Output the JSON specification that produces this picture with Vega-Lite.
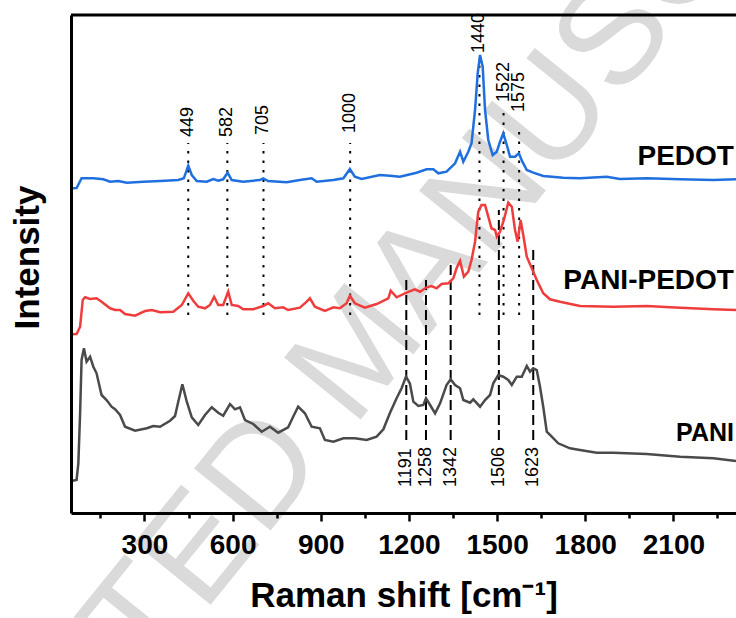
{
  "$schema": "https://vega.github.io/schema/vega-lite/v6.json",
  "width": 665,
  "height": 498,
  "autosize": "none",
  "padding": {"left": 71, "top": 15, "right": 0, "bottom": 105},
  "background": "white",
  "config": {"view": {"stroke": null}, "font": "Liberation Sans"},
  "datasets": {
    "spectra": [
      {"s":"PEDOT","w":52,"i":324.7},{"s":"PEDOT","w":69,"i":325},{"s":"PEDOT","w":86,"i":334.7},{"s":"PEDOT","w":126,"i":334.7},{"s":"PEDOT","w":160,"i":333.7},{"s":"PEDOT","w":183,"i":331.3},{"s":"PEDOT","w":211,"i":332},{"s":"PEDOT","w":240,"i":330.3},{"s":"PEDOT","w":296,"i":331.3},{"s":"PEDOT","w":353,"i":332},{"s":"PEDOT","w":415,"i":333},{"s":"PEDOT","w":434,"i":334.7},{"s":"PEDOT","w":449,"i":347.3},{"s":"PEDOT","w":461,"i":338},{"s":"PEDOT","w":478,"i":332},{"s":"PEDOT","w":512,"i":331.3},{"s":"PEDOT","w":534,"i":334},{"s":"PEDOT","w":551,"i":332.3},{"s":"PEDOT","w":568,"i":333.7},{"s":"PEDOT","w":583,"i":340.3},{"s":"PEDOT","w":597,"i":333},{"s":"PEDOT","w":636,"i":331.3},{"s":"PEDOT","w":693,"i":333},{"s":"PEDOT","w":704,"i":334.7},{"s":"PEDOT","w":721,"i":332},{"s":"PEDOT","w":784,"i":330.7},{"s":"PEDOT","w":829,"i":333},{"s":"PEDOT","w":869,"i":334.7},{"s":"PEDOT","w":886,"i":331.3},{"s":"PEDOT","w":943,"i":333},{"s":"PEDOT","w":977,"i":334.7},{"s":"PEDOT","w":999,"i":344},{"s":"PEDOT","w":1016,"i":336.3},{"s":"PEDOT","w":1039,"i":334},{"s":"PEDOT","w":1101,"i":338},{"s":"PEDOT","w":1135,"i":337.3},{"s":"PEDOT","w":1169,"i":336.3},{"s":"PEDOT","w":1226,"i":340.3},{"s":"PEDOT","w":1260,"i":343.7},{"s":"PEDOT","w":1283,"i":343.7},{"s":"PEDOT","w":1300,"i":339.7},{"s":"PEDOT","w":1328,"i":341.3},{"s":"PEDOT","w":1357,"i":349.7},{"s":"PEDOT","w":1374,"i":361.3},{"s":"PEDOT","w":1385,"i":351.3},{"s":"PEDOT","w":1402,"i":361.3},{"s":"PEDOT","w":1413,"i":369.7},{"s":"PEDOT","w":1425,"i":403},{"s":"PEDOT","w":1434,"i":439.7},{"s":"PEDOT","w":1442,"i":458},{"s":"PEDOT","w":1451,"i":446.3},{"s":"PEDOT","w":1459,"i":403},{"s":"PEDOT","w":1470,"i":373},{"s":"PEDOT","w":1485,"i":358},{"s":"PEDOT","w":1499,"i":361.3},{"s":"PEDOT","w":1510,"i":371.3},{"s":"PEDOT","w":1521,"i":379.7},{"s":"PEDOT","w":1533,"i":368},{"s":"PEDOT","w":1544,"i":356.3},{"s":"PEDOT","w":1561,"i":356.3},{"s":"PEDOT","w":1574,"i":359.7},{"s":"PEDOT","w":1586,"i":351.3},{"s":"PEDOT","w":1601,"i":343},{"s":"PEDOT","w":1623,"i":340.3},{"s":"PEDOT","w":1657,"i":337},{"s":"PEDOT","w":1725,"i":335.3},{"s":"PEDOT","w":1782,"i":334.7},{"s":"PEDOT","w":1873,"i":336.3},{"s":"PEDOT","w":1918,"i":334},{"s":"PEDOT","w":2009,"i":334.7},{"s":"PEDOT","w":2123,"i":333.7},{"s":"PEDOT","w":2236,"i":333},{"s":"PEDOT","w":2313,"i":333.7},
      {"s":"PANI-PEDOT","w":52,"i":178.7},{"s":"PANI-PEDOT","w":69,"i":179},{"s":"PANI-PEDOT","w":81,"i":186.3},{"s":"PANI-PEDOT","w":90,"i":213},{"s":"PANI-PEDOT","w":98,"i":215.7},{"s":"PANI-PEDOT","w":115,"i":214},{"s":"PANI-PEDOT","w":137,"i":214.7},{"s":"PANI-PEDOT","w":154,"i":211.3},{"s":"PANI-PEDOT","w":183,"i":204.7},{"s":"PANI-PEDOT","w":200,"i":203},{"s":"PANI-PEDOT","w":217,"i":203},{"s":"PANI-PEDOT","w":234,"i":199},{"s":"PANI-PEDOT","w":268,"i":197.3},{"s":"PANI-PEDOT","w":302,"i":202},{"s":"PANI-PEDOT","w":325,"i":203},{"s":"PANI-PEDOT","w":353,"i":200.7},{"s":"PANI-PEDOT","w":398,"i":201.3},{"s":"PANI-PEDOT","w":427,"i":208},{"s":"PANI-PEDOT","w":449,"i":219.7},{"s":"PANI-PEDOT","w":466,"i":212.3},{"s":"PANI-PEDOT","w":483,"i":206.3},{"s":"PANI-PEDOT","w":506,"i":204.7},{"s":"PANI-PEDOT","w":523,"i":208},{"s":"PANI-PEDOT","w":537,"i":216.3},{"s":"PANI-PEDOT","w":551,"i":208},{"s":"PANI-PEDOT","w":568,"i":208},{"s":"PANI-PEDOT","w":585,"i":221.3},{"s":"PANI-PEDOT","w":597,"i":208},{"s":"PANI-PEDOT","w":619,"i":207},{"s":"PANI-PEDOT","w":636,"i":203.7},{"s":"PANI-PEDOT","w":670,"i":203.7},{"s":"PANI-PEDOT","w":704,"i":207},{"s":"PANI-PEDOT","w":721,"i":209.7},{"s":"PANI-PEDOT","w":744,"i":204.7},{"s":"PANI-PEDOT","w":772,"i":205.7},{"s":"PANI-PEDOT","w":789,"i":203},{"s":"PANI-PEDOT","w":829,"i":205.3},{"s":"PANI-PEDOT","w":852,"i":211.3},{"s":"PANI-PEDOT","w":863,"i":214.7},{"s":"PANI-PEDOT","w":880,"i":206.3},{"s":"PANI-PEDOT","w":914,"i":202},{"s":"PANI-PEDOT","w":943,"i":205.7},{"s":"PANI-PEDOT","w":965,"i":204.7},{"s":"PANI-PEDOT","w":988,"i":209.7},{"s":"PANI-PEDOT","w":999,"i":217.3},{"s":"PANI-PEDOT","w":1016,"i":209.7},{"s":"PANI-PEDOT","w":1050,"i":205.3},{"s":"PANI-PEDOT","w":1090,"i":209},{"s":"PANI-PEDOT","w":1130,"i":214.7},{"s":"PANI-PEDOT","w":1138,"i":222.3},{"s":"PANI-PEDOT","w":1158,"i":215.7},{"s":"PANI-PEDOT","w":1192,"i":220.3},{"s":"PANI-PEDOT","w":1220,"i":223.7},{"s":"PANI-PEDOT","w":1238,"i":221.3},{"s":"PANI-PEDOT","w":1260,"i":225.7},{"s":"PANI-PEDOT","w":1277,"i":227},{"s":"PANI-PEDOT","w":1294,"i":224.7},{"s":"PANI-PEDOT","w":1311,"i":229},{"s":"PANI-PEDOT","w":1334,"i":229.7},{"s":"PANI-PEDOT","w":1351,"i":234.7},{"s":"PANI-PEDOT","w":1362,"i":244.7},{"s":"PANI-PEDOT","w":1374,"i":252},{"s":"PANI-PEDOT","w":1387,"i":236.3},{"s":"PANI-PEDOT","w":1402,"i":241.3},{"s":"PANI-PEDOT","w":1413,"i":253},{"s":"PANI-PEDOT","w":1425,"i":271.3},{"s":"PANI-PEDOT","w":1436,"i":301.3},{"s":"PANI-PEDOT","w":1447,"i":308},{"s":"PANI-PEDOT","w":1459,"i":308},{"s":"PANI-PEDOT","w":1470,"i":296.3},{"s":"PANI-PEDOT","w":1481,"i":284.7},{"s":"PANI-PEDOT","w":1493,"i":283},{"s":"PANI-PEDOT","w":1499,"i":276.3},{"s":"PANI-PEDOT","w":1510,"i":281.3},{"s":"PANI-PEDOT","w":1523,"i":293},{"s":"PANI-PEDOT","w":1538,"i":310.3},{"s":"PANI-PEDOT","w":1550,"i":306.3},{"s":"PANI-PEDOT","w":1561,"i":283},{"s":"PANI-PEDOT","w":1570,"i":271.3},{"s":"PANI-PEDOT","w":1580,"i":293},{"s":"PANI-PEDOT","w":1589,"i":278},{"s":"PANI-PEDOT","w":1601,"i":256.3},{"s":"PANI-PEDOT","w":1618,"i":244.7},{"s":"PANI-PEDOT","w":1635,"i":233},{"s":"PANI-PEDOT","w":1657,"i":219.7},{"s":"PANI-PEDOT","w":1680,"i":213.7},{"s":"PANI-PEDOT","w":1714,"i":211.3},{"s":"PANI-PEDOT","w":1782,"i":207},{"s":"PANI-PEDOT","w":1895,"i":206.3},{"s":"PANI-PEDOT","w":2009,"i":207},{"s":"PANI-PEDOT","w":2123,"i":205.3},{"s":"PANI-PEDOT","w":2236,"i":203.7},{"s":"PANI-PEDOT","w":2313,"i":203},
      {"s":"PANI","w":52,"i":32},{"s":"PANI","w":69,"i":33},{"s":"PANI","w":75,"i":49.7},{"s":"PANI","w":81,"i":99.7},{"s":"PANI","w":86,"i":153},{"s":"PANI","w":94,"i":164.7},{"s":"PANI","w":103,"i":151.3},{"s":"PANI","w":115,"i":156.3},{"s":"PANI","w":126,"i":146.3},{"s":"PANI","w":137,"i":139.7},{"s":"PANI","w":154,"i":118},{"s":"PANI","w":171,"i":113},{"s":"PANI","w":188,"i":106.3},{"s":"PANI","w":200,"i":103.7},{"s":"PANI","w":217,"i":98},{"s":"PANI","w":234,"i":86.3},{"s":"PANI","w":268,"i":82.3},{"s":"PANI","w":308,"i":84.7},{"s":"PANI","w":330,"i":87},{"s":"PANI","w":353,"i":86.3},{"s":"PANI","w":387,"i":92.3},{"s":"PANI","w":404,"i":97},{"s":"PANI","w":415,"i":111.3},{"s":"PANI","w":429,"i":128.7},{"s":"PANI","w":444,"i":111.3},{"s":"PANI","w":461,"i":95.7},{"s":"PANI","w":483,"i":88},{"s":"PANI","w":506,"i":98},{"s":"PANI","w":529,"i":105.7},{"s":"PANI","w":551,"i":100.3},{"s":"PANI","w":568,"i":97.3},{"s":"PANI","w":591,"i":109},{"s":"PANI","w":608,"i":103.7},{"s":"PANI","w":625,"i":105.7},{"s":"PANI","w":642,"i":93},{"s":"PANI","w":670,"i":89},{"s":"PANI","w":699,"i":81.3},{"s":"PANI","w":727,"i":86.3},{"s":"PANI","w":755,"i":80.3},{"s":"PANI","w":789,"i":85.7},{"s":"PANI","w":806,"i":96.3},{"s":"PANI","w":823,"i":106.3},{"s":"PANI","w":846,"i":99.7},{"s":"PANI","w":869,"i":86.3},{"s":"PANI","w":897,"i":84.7},{"s":"PANI","w":914,"i":73},{"s":"PANI","w":943,"i":71.3},{"s":"PANI","w":977,"i":74.7},{"s":"PANI","w":1016,"i":74.7},{"s":"PANI","w":1056,"i":73},{"s":"PANI","w":1090,"i":76.3},{"s":"PANI","w":1113,"i":83.7},{"s":"PANI","w":1135,"i":99.7},{"s":"PANI","w":1158,"i":114.7},{"s":"PANI","w":1175,"i":124.7},{"s":"PANI","w":1190,"i":136.3},{"s":"PANI","w":1203,"i":129.7},{"s":"PANI","w":1215,"i":111.3},{"s":"PANI","w":1232,"i":107},{"s":"PANI","w":1249,"i":108},{"s":"PANI","w":1258,"i":114.7},{"s":"PANI","w":1272,"i":108},{"s":"PANI","w":1289,"i":99.7},{"s":"PANI","w":1306,"i":109.7},{"s":"PANI","w":1328,"i":128},{"s":"PANI","w":1342,"i":133.7},{"s":"PANI","w":1357,"i":128},{"s":"PANI","w":1374,"i":124.7},{"s":"PANI","w":1385,"i":113},{"s":"PANI","w":1408,"i":110.3},{"s":"PANI","w":1419,"i":113.7},{"s":"PANI","w":1442,"i":106.3},{"s":"PANI","w":1459,"i":113},{"s":"PANI","w":1476,"i":118},{"s":"PANI","w":1487,"i":129.7},{"s":"PANI","w":1504,"i":138},{"s":"PANI","w":1521,"i":136.3},{"s":"PANI","w":1538,"i":133},{"s":"PANI","w":1550,"i":128},{"s":"PANI","w":1567,"i":136.3},{"s":"PANI","w":1584,"i":136.3},{"s":"PANI","w":1601,"i":147},{"s":"PANI","w":1612,"i":141.3},{"s":"PANI","w":1623,"i":144.7},{"s":"PANI","w":1635,"i":143},{"s":"PANI","w":1646,"i":126.3},{"s":"PANI","w":1657,"i":106.3},{"s":"PANI","w":1669,"i":81.3},{"s":"PANI","w":1686,"i":76.3},{"s":"PANI","w":1708,"i":69.7},{"s":"PANI","w":1748,"i":64.7},{"s":"PANI","w":1782,"i":63},{"s":"PANI","w":1839,"i":60.3},{"s":"PANI","w":1895,"i":60.3},{"s":"PANI","w":2009,"i":59},{"s":"PANI","w":2123,"i":56.3},{"s":"PANI","w":2236,"i":54.7},{"s":"PANI","w":2313,"i":52}
    ],
    "peaks": [
      {"g":"PEDOT","w":449,"y1":198,"y2":370,"ly":376},
      {"g":"PEDOT","w":582,"y1":198,"y2":370,"ly":376},
      {"g":"PEDOT","w":705,"y1":198,"y2":370,"ly":378},
      {"g":"PEDOT","w":1000,"y1":198,"y2":370,"ly":380},
      {"g":"PEDOT","w":1440,"y1":198,"y2":455,"ly":460},
      {"g":"PEDOT","w":1522,"y1":198,"y2":401,"ly":411},
      {"g":"PEDOT","w":1575,"y1":198,"y2":385,"ly":401},
      {"g":"PANI","w":1191,"y1":73,"y2":237,"ly":26},
      {"g":"PANI","w":1258,"y1":73,"y2":237,"ly":26},
      {"g":"PANI","w":1342,"y1":73,"y2":251,"ly":26},
      {"g":"PANI","w":1506,"y1":73,"y2":303,"ly":26},
      {"g":"PANI","w":1623,"y1":73,"y2":264,"ly":26}
    ],
    "names": [
      {"t":"PEDOT","w":2306,"y":348,"big":true},
      {"t":"PANI-PEDOT","w":2306,"y":224,"big":true},
      {"t":"PANI","w":2306,"y":72,"big":false}
    ],
    "mark": [
      {"t":"ACCEPTED MANUSCRIPT","w":1033,"y":161}
    ]
  },
  "layer": [
    {
      "data": {"name": "mark"},
      "mark": {"type": "text", "angle": 309, "align": "center", "baseline": "middle", "fontSize": 143, "font": "Liberation Sans", "color": "#dadada"},
      "encoding": {
        "x": {"field": "w", "type": "quantitative"},
        "y": {"field": "y", "type": "quantitative"},
        "text": {"field": "t", "type": "nominal"}
      }
    },
    {
      "data": {"name": "peaks"},
      "transform": [{"filter": "datum.g === 'PEDOT'"}],
      "mark": {"type": "rule", "color": "black", "strokeWidth": 2, "strokeDash": [2.5, 7]},
      "encoding": {
        "x": {"field": "w", "type": "quantitative"},
        "y": {"field": "y1", "type": "quantitative"},
        "y2": {"field": "y2"}
      }
    },
    {
      "data": {"name": "peaks"},
      "transform": [{"filter": "datum.g === 'PANI'"}],
      "mark": {"type": "rule", "color": "black", "strokeWidth": 2, "strokeDash": [10, 5]},
      "encoding": {
        "x": {"field": "w", "type": "quantitative"},
        "y": {"field": "y1", "type": "quantitative"},
        "y2": {"field": "y2"}
      }
    },
    {
      "data": {"name": "spectra"},
      "mark": {"type": "line", "strokeWidth": 2.5},
      "encoding": {
        "x": {
          "field": "w", "type": "quantitative",
          "scale": {"domain": [50, 2313], "nice": false, "zero": false},
          "axis": {
            "zindex": 1,
            "title": "Raman shift [cm⁻¹]",
            "titleFont": "Liberation Sans", "titleFontSize": 35, "titleFontWeight": "bold", "titleColor": "black",
            "titleBaseline": "alphabetic", "titleY": 93,
            "values": [150, 300, 450, 600, 750, 900, 1050, 1200, 1350, 1500, 1650, 1800, 1950, 2100, 2250],
            "labelExpr": "datum.value % 300 === 0 ? datum.label : ''",
            "format": "d",
            "labelFont": "'Liberation Sans Narrow', 'Liberation Sans'", "labelFontSize": 28, "labelFontWeight": "bold", "labelColor": "black",
            "labelPadding": 10, "labelFlush": false, "labelOverlap": false,
            "tickSize": {"condition": {"test": "datum.value % 300 === 0", "value": 8}, "value": 5},
            "tickWidth": 2.5, "tickColor": "black",
            "domainColor": "black", "domainWidth": 3, "grid": false
          }
        },
        "y": {
          "field": "i", "type": "quantitative",
          "scale": {"domain": [0, 498], "nice": false, "zero": false},
          "axis": {
            "zindex": 1,
            "title": "Intensity",
            "titleFont": "Liberation Sans", "titleFontSize": 35, "titleFontWeight": "bold", "titleColor": "black",
            "titleAngle": 270, "titleAlign": "center", "titleBaseline": "middle", "titleX": -44, "titleY": 242,
            "labels": false, "ticks": false, "grid": false,
            "domainColor": "black", "domainWidth": 3
          }
        },
        "color": {
          "field": "s", "type": "nominal",
          "scale": {"domain": ["PEDOT", "PANI-PEDOT", "PANI"], "range": ["#1f6fdf", "#ef3d3d", "#4a4a4a"]},
          "legend": null
        }
      }
    },
    {
      "data": {"name": "peaks"},
      "mark": {"type": "text", "angle": 270, "align": "left", "baseline": "middle", "fontSize": 18, "font": "Liberation Sans", "color": "black"},
      "encoding": {
        "x": {"field": "w", "type": "quantitative"},
        "y": {"field": "ly", "type": "quantitative"},
        "text": {"field": "w", "type": "nominal"}
      }
    },
    {
      "data": {"name": "names"},
      "transform": [{"filter": "datum.big"}],
      "mark": {"type": "text", "align": "right", "baseline": "alphabetic", "fontSize": 28, "fontWeight": "bold", "font": "Liberation Sans", "color": "black"},
      "encoding": {
        "x": {"field": "w", "type": "quantitative"},
        "y": {"field": "y", "type": "quantitative"},
        "text": {"field": "t", "type": "nominal"}
      }
    },
    {
      "data": {"name": "names"},
      "transform": [{"filter": "!datum.big"}],
      "mark": {"type": "text", "align": "right", "baseline": "alphabetic", "fontSize": 25, "fontWeight": "bold", "font": "Liberation Sans", "color": "black"},
      "encoding": {
        "x": {"field": "w", "type": "quantitative"},
        "y": {"field": "y", "type": "quantitative"},
        "text": {"field": "t", "type": "nominal"}
      }
    },
    {
      "data": {"values": [{}]},
      "mark": {"type": "rule", "color": "black", "strokeWidth": 3},
      "encoding": {"y": {"datum": 498, "type": "quantitative"}}
    }
  ]
}
